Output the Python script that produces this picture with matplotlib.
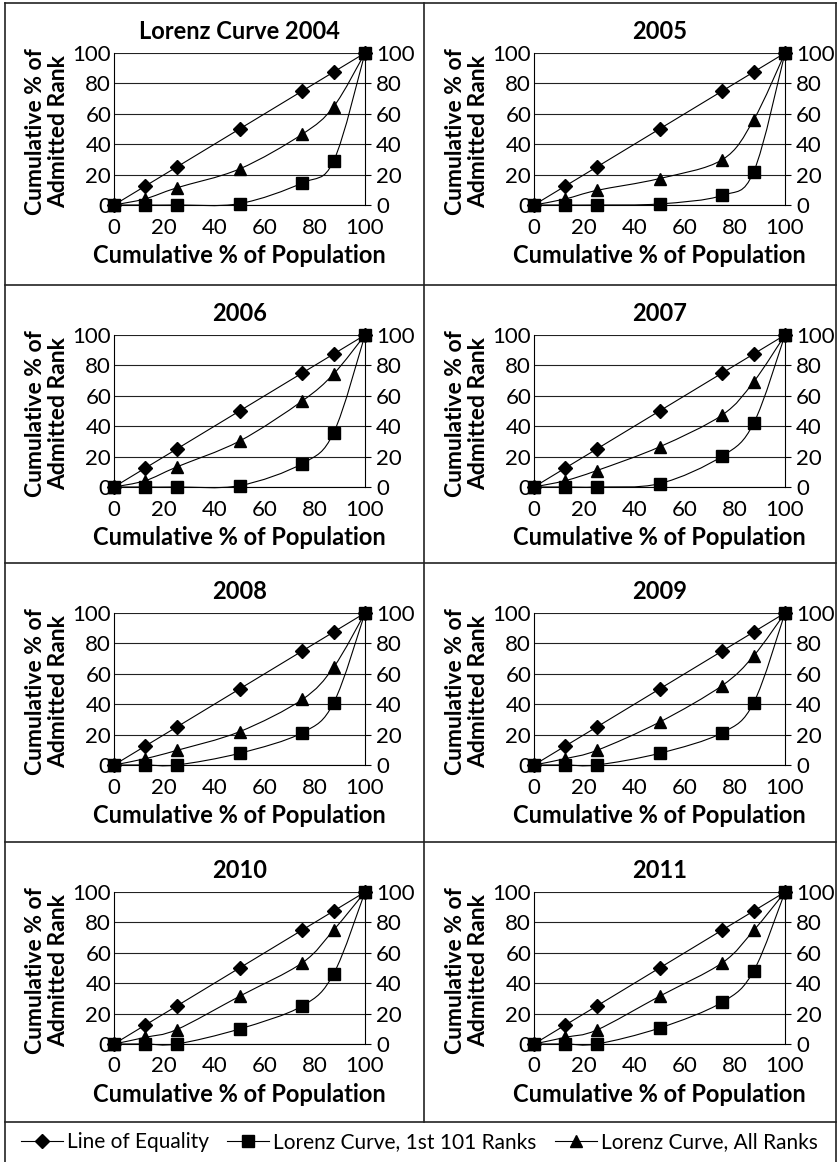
import matplotlib
matplotlib.use("Agg")
import matplotlib.pyplot as plt
from matplotlib.path import Path
from matplotlib.patches import PathPatch
from matplotlib.lines import Line2D

plt.rcParams['font.family'] = ['Lato', 'DejaVu Sans']

# cumulative % of population (x positions shared by all series)
pop_pct = [0, 12.5, 25, 50, 75, 87.5, 100]
equality = [0, 12.5, 25, 50, 75, 87.5, 100]

years = ["2004", "2005", "2006", "2007", "2008", "2009", "2010", "2011"]
titles = ["Lorenz Curve 2004", "2005", "2006", "2007", "2008", "2009", "2010", "2011"]

# Lorenz curve, 1st 101 ranks
top101 = {
    "2004": [0, 0, 0, 0.9, 14.5, 29, 100],
    "2005": [0, 0, 0, 0.7, 6.3, 21.8, 100],
    "2006": [0, 0, 0, 0.9, 15.4, 35.7, 100],
    "2007": [0, 0, 0, 2.2, 20.3, 41.9, 100],
    "2008": [0, 0, 0, 7.7, 21.2, 40.9, 100],
    "2009": [0, 0, 0, 7.7, 21.2, 40.9, 100],
    "2010": [0, 0, 0, 9.9, 25.0, 46.2, 100],
    "2011": [0, 0, 0, 10.5, 27.5, 48.0, 100],
}

# Lorenz curve, all ranks
all_ranks = {
    "2004": [0, 4.1, 11.3, 23.7, 46.6, 64.7, 100],
    "2005": [0, 4.0, 9.6, 17.4, 29.8, 56.0, 100],
    "2006": [0, 4.2, 13.2, 30.2, 56.6, 74.4, 100],
    "2007": [0, 4.2, 10.8, 26.4, 47.4, 69.2, 100],
    "2008": [0, 4.2, 9.6, 21.9, 43.1, 64.3, 100],
    "2009": [0, 4.2, 9.6, 28.2, 52.3, 71.8, 100],
    "2010": [0, 4.4, 9.5, 31.4, 53.4, 75.0, 100],
    "2011": [0, 4.4, 9.2, 31.4, 53.4, 74.7, 100],
}

W, H = 839, 1162
LW = 0.8
TICK_FS = 16
LABEL_FS = 17


def smooth_path(xs, ys):
    # excel-style smoothed line: cubic bezier through the points
    pts = list(zip(xs, ys))
    n = len(pts)
    verts = [pts[0]]
    codes = [Path.MOVETO]
    for i in range(n - 1):
        p0 = pts[max(i - 1, 0)]
        p1 = pts[i]
        p2 = pts[i + 1]
        p3 = pts[min(i + 2, n - 1)]
        c1 = (p1[0] + (p2[0] - p0[0]) / 6, p1[1] + (p2[1] - p0[1]) / 6)
        c2 = (p2[0] - (p3[0] - p1[0]) / 6, p2[1] - (p3[1] - p1[1]) / 6)
        verts += [c1, c2, p2]
        codes += [Path.CURVE4] * 3
    return Path(verts, codes)


def draw_series(ax, ys, marker, ms):
    ax.add_patch(PathPatch(smooth_path(pop_pct, ys), fill=False, lw=LW,
                           edgecolor='black', transform=ax.transData, clip_on=False))
    ax.plot(pop_pct, ys, ls='none', marker=marker, ms=ms, color='black', clip_on=False, zorder=5)


fig = plt.figure(figsize=(W / 100, H / 100), dpi=100)

row_tops = [3, 285, 563, 842]
col_lefts = [114, 534]
pw, ph = 251, 152

for k, yr in enumerate(years):
    r, c = divmod(k, 2)
    left = col_lefts[c]
    top = row_tops[r] + 50
    ax = fig.add_axes([left / W, 1 - (top + ph) / H, pw / W, ph / H])
    ax.set_xlim(0, 100)
    ax.set_ylim(0, 100)
    ax.set_xticks([0, 20, 40, 60, 80, 100])
    ax.set_yticks([0, 20, 40, 60, 80, 100])
    ax.yaxis.grid(True, color='#222222', lw=LW)
    ax.set_axisbelow(True)
    for s in ['top', 'right']:
        ax.spines[s].set_visible(False)
    ax.spines['left'].set_linewidth(LW)
    ax.spines['bottom'].set_linewidth(LW)
    ax.tick_params(axis='x', length=0, pad=9, labelsize=TICK_FS)
    ax.tick_params(axis='y', length=0, pad=2, labelsize=TICK_FS)

    sec = ax.secondary_yaxis('right')
    sec.set_yticks([0, 20, 40, 60, 80, 100])
    sec.spines['right'].set_linewidth(LW)
    sec.tick_params(length=4, width=LW, direction='out', pad=4, labelsize=TICK_FS)

    draw_series(ax, equality, 'D', 7)
    draw_series(ax, all_ranks[yr], '^', 8)
    draw_series(ax, top101[yr], 's', 8)

    ax.text(0.5, 1.14, titles[k], transform=ax.transAxes, ha='center', va='center',
            fontsize=17, fontweight='bold')
    ax.text(-0.268, 0.48, "Cumulative % of\nAdmitted Rank", transform=ax.transAxes,
            rotation=90, ha='center', va='center', fontsize=16.5, fontweight='bold',
            multialignment='center', linespacing=1.12)
    ax.text(0.5, -0.335, "Cumulative % of Population", transform=ax.transAxes,
            ha='center', va='center', fontsize=LABEL_FS, fontweight='bold')

# cell borders
def hline(y, x0=5, x1=836):
    fig.add_artist(Line2D([x0 / W, x1 / W], [1 - y / H, 1 - y / H], color='#222222', lw=1.2))


def vline(x, y0, y1):
    fig.add_artist(Line2D([x / W, x / W], [1 - y0 / H, 1 - y1 / H], color='#222222', lw=1.2))


for y in [3, 285, 563, 842, 1122]:
    hline(y)
vline(5, 3, 1162)
vline(836, 3, 1162)
vline(424, 3, 1122)

handles = [
    Line2D([], [], color='black', lw=LW, marker='D', ms=7),
    Line2D([], [], color='black', lw=LW, marker='s', ms=8),
    Line2D([], [], color='black', lw=LW, marker='^', ms=8),
]
labels = ["Line of Equality", "Lorenz Curve, 1st 101 Ranks", "Lorenz Curve, All Ranks"]
fig.legend(handles, labels, loc='center', bbox_to_anchor=(0.5, 1 - 1142 / H), ncol=3,
           frameon=False, fontsize=15, handlelength=2.0, handletextpad=0.2,
           columnspacing=0.9, borderaxespad=0)

fig.savefig("out.png", dpi=100)
